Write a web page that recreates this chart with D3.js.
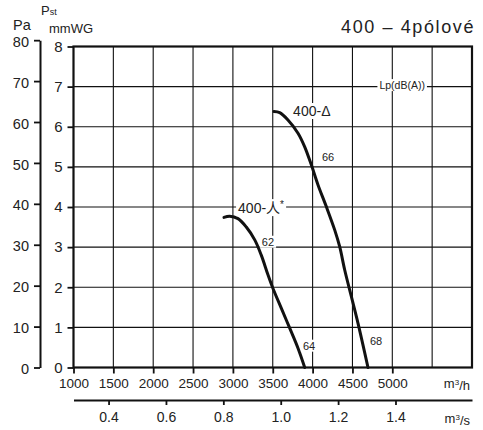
<!DOCTYPE html>
<html>
<head>
<meta charset="utf-8">
<script src="https://cdn.jsdelivr.net/npm/d3@7"></script>
<style>
  html, body { margin: 0; padding: 0; background: #fff; }
  svg text { font-family: "Liberation Sans", Arial, "Noto Sans CJK SC", sans-serif; fill: #222; }
</style>
</head>
<body>
<div id="chart"></div>
<script>
// curve data, flow in m3/h, static pressure in mmWG
const flowDelta = [3516, 3587, 3691, 3817, 3901, 3984, 4068, 4172, 4277, 4340, 4403, 4486, 4570, 4695];
const pressDelta = [6.38, 6.35, 6.17, 5.84, 5.50, 5.05, 4.55, 4.01, 3.43, 3.01, 2.43, 1.77, 1.1, 0];
const flowStar = [2888, 2960, 3064, 3168, 3274, 3356, 3440, 3503, 3607, 3713, 3817, 3901];
const pressStar = [3.74, 3.77, 3.71, 3.50, 3.18, 2.80, 2.31, 1.97, 1.48, 0.98, 0.48, 0];

// noise labels Lp dB(A), placed in data coords
const noiseText = ['62', '64', '66', '68'];
const noiseFlow = [3440, 3955, 4194, 4796];
const noisePress = [3.13, 0.54, 5.24, 0.65];

const paTicks = [0, 10, 20, 30, 40, 50, 60, 70, 80];
const mmTicks = [0, 1, 2, 3, 4, 5, 6, 7, 8];
const flowTicks = [1000, 1500, 2000, 2500, 3000, 3500, 4000, 4500, 5000];
const flowGrid = [1500, 2000, 2500, 3000, 3500, 4000, 4500, 5000, 5500];
const flowSecTicks = [0.4, 0.6, 0.8, 1.0, 1.2, 1.4];

const width = 483, height = 430;
const PA_PER_MM = 9.80665;

const svg = d3.select('#chart')
  .append('svg')
  .attr('width', width)
  .attr('height', height);

const x = d3.scaleLinear().domain([1000, 6000]).range([73.5, 472]);
const y = d3.scaleLinear().domain([0, 8]).range([367.5, 46.5]);
const yPa = d3.scaleLinear().domain([0, 80]).range([y(0), y(80 / PA_PER_MM)]);
const xs = d3.scaleLinear().domain([1000 / 3600, 6000 / 3600]).range(x.range());

// grid
const grid = svg.append('g').attr('stroke', '#111').attr('stroke-width', 1.1);
grid.selectAll('.vg')
  .data(flowGrid)
  .enter()
  .append('line')
  .attr('x1', d => x(d)).attr('x2', d => x(d))
  .attr('y1', y(8)).attr('y2', y(0));
grid.selectAll('.hg')
  .data(mmTicks.slice(1, -1))
  .enter()
  .append('line')
  .attr('x1', x(1000)).attr('x2', x(6000))
  .attr('y1', d => y(d)).attr('y2', d => y(d));

// frame
svg.append('rect')
  .attr('x', x(1000)).attr('y', y(8))
  .attr('width', x(6000) - x(1000))
  .attr('height', y(0) - y(8))
  .attr('fill', 'none')
  .attr('stroke', '#111')
  .attr('stroke-width', 2.2);

function styleAxis(g, size) {
  g.selectAll('path.domain').attr('stroke', '#111').attr('stroke-width', 2);
  g.selectAll('.tick line').attr('stroke', '#111').attr('stroke-width', 1.8);
  g.selectAll('.tick text')
    .attr('fill', '#222')
    .style('font-size', size + 'px')
    .style('font-family', '"Liberation Sans", Arial, sans-serif');
}

// mmWG axis
const mmAxis = svg.append('g')
  .attr('transform', `translate(${x(1000)},0)`)
  .call(d3.axisLeft(y).tickValues(mmTicks).tickSize(6).tickSizeOuter(0).tickPadding(5).tickFormat(d3.format('d')));
mmAxis.select('path.domain').remove();
styleAxis(mmAxis, 15);

// Pa axis
const paAxis = svg.append('g')
  .attr('transform', 'translate(40,0)')
  .call(d3.axisLeft(yPa).tickValues(paTicks).tickSize(6).tickSizeOuter(0).tickPadding(5).tickFormat(d3.format('d')));
styleAxis(paAxis, 14.5);
paAxis.selectAll('.tick text').attr('dy', '0.42em');

// m3/h axis
const flowAxis = svg.append('g')
  .attr('transform', `translate(0,${y(0)})`)
  .call(d3.axisBottom(x).tickValues(flowTicks).tickSize(6).tickSizeOuter(0).tickPadding(5).tickFormat(d3.format('d')));
flowAxis.select('path.domain').remove();
styleAxis(flowAxis, 13.5);

// m3/s axis
const secAxis = svg.append('g')
  .attr('transform', 'translate(0,400)')
  .call(d3.axisBottom(xs).tickValues(flowSecTicks).tickSize(5).tickSizeOuter(0).tickPadding(7).tickFormat(d3.format('.1f')));
styleAxis(secAxis, 14);

// curves
const line = d3.line()
  .x(d => x(d[0]))
  .y(d => y(d[1]))
  .curve(d3.curveCatmullRom.alpha(0.5));

[[flowDelta, pressDelta], [flowStar, pressStar]].forEach(([qs, ps]) => {
  svg.append('path')
    .datum(qs.map((q, i) => [q, ps[i]]))
    .attr('d', line)
    .attr('fill', 'none')
    .attr('stroke', '#111')
    .attr('stroke-width', 3)
    .attr('stroke-linecap', 'round');
});

// label with white box behind it
function boxLabel(px, py, size, build) {
  const g = svg.append('g');
  const rect = g.append('rect').attr('fill', '#fff');
  const t = g.append('text')
    .attr('x', px).attr('y', py)
    .attr('dy', '0.35em')
    .attr('text-anchor', 'middle')
    .style('font-size', size + 'px');
  build(t);
  const b = t.node().getBBox();
  rect.attr('x', b.x - 2).attr('y', b.y)
    .attr('width', b.width + 4).attr('height', b.height);
  return t;
}

boxLabel(x(3990), y(6.39), 14, t => t.text('400-Δ'));
boxLabel(x(3353), y(3.97), 14, t => {
  t.append('tspan').text('400-人');
  t.append('tspan').attr('dy', '-0.5em').style('font-size', '10px').text('*');
});
noiseText.forEach((s, i) => {
  boxLabel(x(noiseFlow[i]), y(noisePress[i]), 11, t => t.text(s));
});
boxLabel(x(5124), y(7.03), 10.5, t => t.text('Lp(dB(A))'));

// titles and units
svg.append('text')
  .attr('x', 475).attr('y', 33)
  .attr('text-anchor', 'end')
  .style('font-size', '18px')
  .style('letter-spacing', '1.6px')
  .attr('fill', '#333')
  .text('400 – 4pólové');

const pst = svg.append('text').attr('x', 41).attr('y', 15).style('font-size', '13px');
pst.append('tspan').text('P');
pst.append('tspan').style('font-size', '9px').text('st');

svg.append('text').attr('x', 13).attr('y', 30).style('font-size', '14.5px').text('Pa');
svg.append('text').attr('x', 49).attr('y', 33).style('font-size', '13px').text('mmWG');

const uh = svg.append('text').attr('x', 470).attr('y', 388).attr('text-anchor', 'end').style('font-size', '13px');
uh.append('tspan').text('m');
uh.append('tspan').attr('dy', '-0.4em').style('font-size', '8px').text('3');
uh.append('tspan').attr('dy', '0.4em').text('/h');

const us = svg.append('text').attr('x', 470).attr('y', 423).attr('text-anchor', 'end').style('font-size', '13px');
us.append('tspan').text('m');
us.append('tspan').attr('dy', '-0.4em').style('font-size', '8px').text('3');
us.append('tspan').attr('dy', '0.4em').text('/s');
</script>
</body>
</html>
